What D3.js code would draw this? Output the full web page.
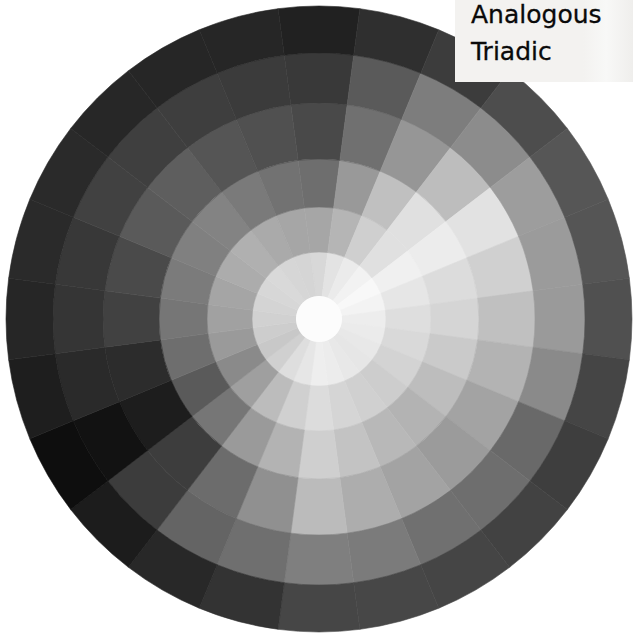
<!DOCTYPE html>
<html>
<head>
<meta charset="utf-8">
<script src="https://cdn.jsdelivr.net/npm/d3@7"></script>
<style>
  body { margin: 0; background: #fff; }
  svg { display: block; }
</style>
</head>
<body>
<div id="wheel"></div>
<script>
// hue categories, clockwise from the top
var hues = ["0", "15", "30", "45", "60", "75", "90", "105", "120", "135", "150", "165",
            "180", "195", "210", "225", "240", "255", "270", "285", "300", "315", "330", "345"];

// ring names, inside to outside
var rings = ["tint3", "tint2", "tint1", "pure", "shade1", "shade2"];

// grey level of each cell, one list per ring, in hue order
var tint3 = [216, 227, 235, 242, 248, 243, 237, 235, 232, 230, 232, 236,
             238, 230, 222, 208, 200, 205, 209, 212, 215, 217, 214, 213];
var tint2 = [166, 181, 207, 224, 240, 230, 222, 217, 211, 205, 208, 213,
             220, 208, 188, 159, 138, 154, 161, 165, 172, 176, 170, 166];
var tint1 = [110, 153, 192, 224, 236, 220, 213, 202, 189, 179, 184, 195,
             207, 179, 154, 118, 90, 110, 118, 123, 128, 131, 122, 114];
var pure  = [73, 112, 150, 189, 226, 208, 192, 179, 163, 155, 163, 173,
             187, 144, 108, 61, 29, 44, 65, 74, 90, 94, 85, 80];
var shade1 = [57, 90, 125, 140, 157, 155, 154, 138, 105, 110, 112, 123,
              127, 111, 100, 60, 18, 42, 53, 56, 65, 63, 62, 59];
var shade2 = [33, 47, 60, 77, 86, 85, 80, 69, 62, 66, 69, 71,
              70, 51, 40, 28, 14, 30, 38, 42, 42, 39, 38, 38];
var centerGrey = 252;

var legendItems = ["Analogous", "Triadic"];

var greys = { tint3: tint3, tint2: tint2, tint1: tint1, pure: pure, shade1: shade1, shade2: shade2 };

var svgWidth = 633;
var svgHeight = 635;
var cx = 319;
var cy = 319;

var svg = d3.select("#wheel")
  .append("svg")
  .attr("width", svgWidth)
  .attr("height", svgHeight);

// angle of each hue wedge, centred on its hue
var step = 2 * Math.PI / hues.length;
var angleScale = d3.scaleBand()
  .domain(hues)
  .range([-step / 2, 2 * Math.PI - step / 2]);

// ring edges
var innerScale = d3.scaleOrdinal().domain(rings).range([23, 67, 112, 160, 216, 266]);
var outerScale = d3.scaleOrdinal().domain(rings).range([67, 112, 160, 216, 266, 313]);

var cells = [];
rings.forEach(function(ring) {
  hues.forEach(function(hue, i) {
    cells.push({ ring: ring, hue: hue, grey: greys[ring][i] });
  });
});

var arc = d3.arc()
  .innerRadius(d => innerScale(d.ring))
  .outerRadius(d => outerScale(d.ring))
  .startAngle(d => angleScale(d.hue))
  .endAngle(d => angleScale(d.hue) + angleScale.bandwidth());

var wheel = svg.append("g")
  .attr("transform", `translate(${cx}, ${cy})`);

wheel.selectAll("path.cell")
  .data(cells)
  .enter()
  .append("path")
  .attr("class", "cell")
  .attr("d", arc)
  .attr("fill", d => d3.rgb(d.grey, d.grey, d.grey))
  .attr("stroke", d => d3.rgb(d.grey, d.grey, d.grey))
  .attr("stroke-width", 0.6);

wheel.append("circle")
  .attr("r", innerScale(rings[0]))
  .attr("fill", d3.rgb(centerGrey, centerGrey, centerGrey));

// legend box in the top right corner
var defs = svg.append("defs");
var grad = defs.append("linearGradient")
  .attr("id", "legendFill")
  .attr("x1", "0").attr("x2", "1").attr("y1", "0").attr("y2", "0");
grad.append("stop").attr("offset", "0.72").attr("stop-color", "#f3f2f0");
grad.append("stop").attr("offset", "0.85").attr("stop-color", "#f8f8f7");
grad.append("stop").attr("offset", "1").attr("stop-color", "#efeeec");

var legend = svg.append("g")
  .attr("transform", "translate(455, 0)");

legend.append("rect")
  .attr("width", 178)
  .attr("height", 82)
  .attr("fill", "url(#legendFill)");

legend.selectAll("text")
  .data(legendItems)
  .enter()
  .append("text")
  .attr("x", 16)
  .attr("y", (d, i) => 23 + i * 37)
  .attr("font-family", "DejaVu Sans, sans-serif")
  .attr("font-size", 25)
  .attr("fill", "#0a0a0a")
  .attr("stroke", "#0a0a0a")
  .attr("stroke-width", 0.3)
  .text(d => d);
</script>
</body>
</html>
